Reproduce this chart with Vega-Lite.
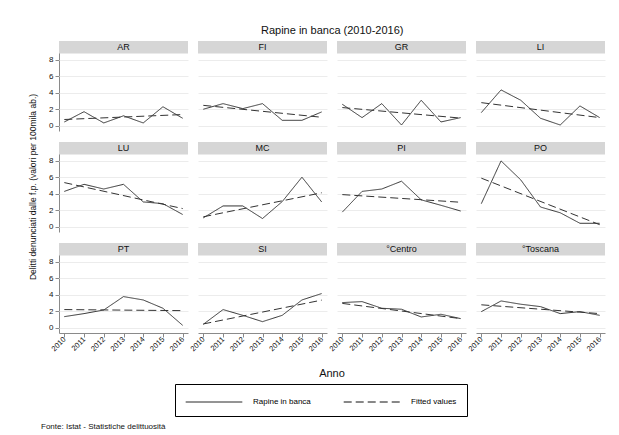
{
  "$schema": "https://vega.github.io/schema/vega-lite/v6.json",
  "padding": {"left": 28, "top": 25, "right": 5, "bottom": 3},
  "background": "white",
  "config": {
    "font": "Liberation Sans",
    "view": {"stroke": null},
    "axis": {"labelColor": "#111", "titleColor": "#111", "titleFontWeight": "normal", "domainColor": "#8a8a8a", "tickColor": "#8a8a8a", "labelOverlap": false},
    "title": {"fontWeight": "normal", "color": "#111"}
  },
  "title": {"text": "Fonte: Istat - Statistiche delittuosità", "orient": "bottom", "anchor": "start", "frame": "group", "fontSize": 8, "fontWeight": "normal", "dx": -18, "offset": 6},
  "vconcat": [
    {
      "title": {"text": "Rapine in banca (2010-2016)", "anchor": "start", "frame": "group", "dx": 202, "fontSize": 11, "fontWeight": "normal", "offset": 5},
      "data": {"values": [
        {"area": "AR", "anno": 2010, "serie": "Rapine in banca", "valore": 0.45},
        {"area": "AR", "anno": 2011, "serie": "Rapine in banca", "valore": 1.7},
        {"area": "AR", "anno": 2012, "serie": "Rapine in banca", "valore": 0.33},
        {"area": "AR", "anno": 2013, "serie": "Rapine in banca", "valore": 1.2},
        {"area": "AR", "anno": 2014, "serie": "Rapine in banca", "valore": 0.33},
        {"area": "AR", "anno": 2015, "serie": "Rapine in banca", "valore": 2.3},
        {"area": "AR", "anno": 2016, "serie": "Rapine in banca", "valore": 0.9},
        {"area": "FI", "anno": 2010, "serie": "Rapine in banca", "valore": 2.0},
        {"area": "FI", "anno": 2011, "serie": "Rapine in banca", "valore": 2.68},
        {"area": "FI", "anno": 2012, "serie": "Rapine in banca", "valore": 2.07},
        {"area": "FI", "anno": 2013, "serie": "Rapine in banca", "valore": 2.68},
        {"area": "FI", "anno": 2014, "serie": "Rapine in banca", "valore": 0.65},
        {"area": "FI", "anno": 2015, "serie": "Rapine in banca", "valore": 0.65},
        {"area": "FI", "anno": 2016, "serie": "Rapine in banca", "valore": 1.67},
        {"area": "GR", "anno": 2010, "serie": "Rapine in banca", "valore": 2.6},
        {"area": "GR", "anno": 2011, "serie": "Rapine in banca", "valore": 0.98},
        {"area": "GR", "anno": 2012, "serie": "Rapine in banca", "valore": 2.68},
        {"area": "GR", "anno": 2013, "serie": "Rapine in banca", "valore": 0.08},
        {"area": "GR", "anno": 2014, "serie": "Rapine in banca", "valore": 3.09},
        {"area": "GR", "anno": 2015, "serie": "Rapine in banca", "valore": 0.45},
        {"area": "GR", "anno": 2016, "serie": "Rapine in banca", "valore": 0.98},
        {"area": "LI", "anno": 2010, "serie": "Rapine in banca", "valore": 1.59},
        {"area": "LI", "anno": 2011, "serie": "Rapine in banca", "valore": 4.35},
        {"area": "LI", "anno": 2012, "serie": "Rapine in banca", "valore": 3.09},
        {"area": "LI", "anno": 2013, "serie": "Rapine in banca", "valore": 0.9},
        {"area": "LI", "anno": 2014, "serie": "Rapine in banca", "valore": 0.08},
        {"area": "LI", "anno": 2015, "serie": "Rapine in banca", "valore": 2.4},
        {"area": "LI", "anno": 2016, "serie": "Rapine in banca", "valore": 0.98},
        {"area": "LU", "anno": 2010, "serie": "Rapine in banca", "valore": 4.29},
        {"area": "LU", "anno": 2011, "serie": "Rapine in banca", "valore": 5.15},
        {"area": "LU", "anno": 2012, "serie": "Rapine in banca", "valore": 4.58},
        {"area": "LU", "anno": 2013, "serie": "Rapine in banca", "valore": 5.15},
        {"area": "LU", "anno": 2014, "serie": "Rapine in banca", "valore": 3.01},
        {"area": "LU", "anno": 2015, "serie": "Rapine in banca", "valore": 2.8},
        {"area": "LU", "anno": 2016, "serie": "Rapine in banca", "valore": 1.48},
        {"area": "MC", "anno": 2010, "serie": "Rapine in banca", "valore": 1.07},
        {"area": "MC", "anno": 2011, "serie": "Rapine in banca", "valore": 2.52},
        {"area": "MC", "anno": 2012, "serie": "Rapine in banca", "valore": 2.52},
        {"area": "MC", "anno": 2013, "serie": "Rapine in banca", "valore": 0.99},
        {"area": "MC", "anno": 2014, "serie": "Rapine in banca", "valore": 3.05},
        {"area": "MC", "anno": 2015, "serie": "Rapine in banca", "valore": 6.02},
        {"area": "MC", "anno": 2016, "serie": "Rapine in banca", "valore": 3.01},
        {"area": "PI", "anno": 2010, "serie": "Rapine in banca", "valore": 1.77},
        {"area": "PI", "anno": 2011, "serie": "Rapine in banca", "valore": 4.29},
        {"area": "PI", "anno": 2012, "serie": "Rapine in banca", "valore": 4.58},
        {"area": "PI", "anno": 2013, "serie": "Rapine in banca", "valore": 5.53},
        {"area": "PI", "anno": 2014, "serie": "Rapine in banca", "valore": 3.26},
        {"area": "PI", "anno": 2015, "serie": "Rapine in banca", "valore": 2.6},
        {"area": "PI", "anno": 2016, "serie": "Rapine in banca", "valore": 1.9},
        {"area": "PO", "anno": 2010, "serie": "Rapine in banca", "valore": 2.8},
        {"area": "PO", "anno": 2011, "serie": "Rapine in banca", "valore": 8.0},
        {"area": "PO", "anno": 2012, "serie": "Rapine in banca", "valore": 5.69},
        {"area": "PO", "anno": 2013, "serie": "Rapine in banca", "valore": 2.39},
        {"area": "PO", "anno": 2014, "serie": "Rapine in banca", "valore": 1.69},
        {"area": "PO", "anno": 2015, "serie": "Rapine in banca", "valore": 0.41},
        {"area": "PO", "anno": 2016, "serie": "Rapine in banca", "valore": 0.41},
        {"area": "PT", "anno": 2010, "serie": "Rapine in banca", "valore": 1.34},
        {"area": "PT", "anno": 2011, "serie": "Rapine in banca", "valore": 1.71},
        {"area": "PT", "anno": 2012, "serie": "Rapine in banca", "valore": 2.15},
        {"area": "PT", "anno": 2013, "serie": "Rapine in banca", "valore": 3.78},
        {"area": "PT", "anno": 2014, "serie": "Rapine in banca", "valore": 3.37},
        {"area": "PT", "anno": 2015, "serie": "Rapine in banca", "valore": 2.36},
        {"area": "PT", "anno": 2016, "serie": "Rapine in banca", "valore": 0.28},
        {"area": "SI", "anno": 2010, "serie": "Rapine in banca", "valore": 0.41},
        {"area": "SI", "anno": 2011, "serie": "Rapine in banca", "valore": 2.2},
        {"area": "SI", "anno": 2012, "serie": "Rapine in banca", "valore": 1.5},
        {"area": "SI", "anno": 2013, "serie": "Rapine in banca", "valore": 0.73},
        {"area": "SI", "anno": 2014, "serie": "Rapine in banca", "valore": 1.5},
        {"area": "SI", "anno": 2015, "serie": "Rapine in banca", "valore": 3.37},
        {"area": "SI", "anno": 2016, "serie": "Rapine in banca", "valore": 4.15},
        {"area": "°Centro", "anno": 2010, "serie": "Rapine in banca", "valore": 3.05},
        {"area": "°Centro", "anno": 2011, "serie": "Rapine in banca", "valore": 3.17},
        {"area": "°Centro", "anno": 2012, "serie": "Rapine in banca", "valore": 2.36},
        {"area": "°Centro", "anno": 2013, "serie": "Rapine in banca", "valore": 2.24},
        {"area": "°Centro", "anno": 2014, "serie": "Rapine in banca", "valore": 1.3},
        {"area": "°Centro", "anno": 2015, "serie": "Rapine in banca", "valore": 1.63},
        {"area": "°Centro", "anno": 2016, "serie": "Rapine in banca", "valore": 1.1},
        {"area": "°Toscana", "anno": 2010, "serie": "Rapine in banca", "valore": 1.95},
        {"area": "°Toscana", "anno": 2011, "serie": "Rapine in banca", "valore": 3.25},
        {"area": "°Toscana", "anno": 2012, "serie": "Rapine in banca", "valore": 2.85},
        {"area": "°Toscana", "anno": 2013, "serie": "Rapine in banca", "valore": 2.56},
        {"area": "°Toscana", "anno": 2014, "serie": "Rapine in banca", "valore": 1.71},
        {"area": "°Toscana", "anno": 2015, "serie": "Rapine in banca", "valore": 1.95},
        {"area": "°Toscana", "anno": 2016, "serie": "Rapine in banca", "valore": 1.5},
        {"area": "AR", "anno": 2010, "serie": "Fitted values", "valore": 0.75},
        {"area": "AR", "anno": 2016, "serie": "Fitted values", "valore": 1.35},
        {"area": "FI", "anno": 2010, "serie": "Fitted values", "valore": 2.47},
        {"area": "FI", "anno": 2016, "serie": "Fitted values", "valore": 1.02},
        {"area": "GR", "anno": 2010, "serie": "Fitted values", "valore": 2.2},
        {"area": "GR", "anno": 2016, "serie": "Fitted values", "valore": 0.92},
        {"area": "LI", "anno": 2010, "serie": "Fitted values", "valore": 2.8},
        {"area": "LI", "anno": 2016, "serie": "Fitted values", "valore": 0.98},
        {"area": "LU", "anno": 2010, "serie": "Fitted values", "valore": 5.36},
        {"area": "LU", "anno": 2016, "serie": "Fitted values", "valore": 2.2},
        {"area": "MC", "anno": 2010, "serie": "Fitted values", "valore": 1.2},
        {"area": "MC", "anno": 2016, "serie": "Fitted values", "valore": 4.12},
        {"area": "PI", "anno": 2010, "serie": "Fitted values", "valore": 3.9},
        {"area": "PI", "anno": 2016, "serie": "Fitted values", "valore": 2.97},
        {"area": "PO", "anno": 2010, "serie": "Fitted values", "valore": 5.9},
        {"area": "PO", "anno": 2016, "serie": "Fitted values", "valore": 0.24},
        {"area": "PT", "anno": 2010, "serie": "Fitted values", "valore": 2.2},
        {"area": "PT", "anno": 2016, "serie": "Fitted values", "valore": 2.07},
        {"area": "SI", "anno": 2010, "serie": "Fitted values", "valore": 0.45},
        {"area": "SI", "anno": 2016, "serie": "Fitted values", "valore": 3.35},
        {"area": "°Centro", "anno": 2010, "serie": "Fitted values", "valore": 2.95},
        {"area": "°Centro", "anno": 2016, "serie": "Fitted values", "valore": 1.1},
        {"area": "°Toscana", "anno": 2010, "serie": "Fitted values", "valore": 2.78},
        {"area": "°Toscana", "anno": 2016, "serie": "Fitted values", "valore": 1.71}
      ]},
      "transform": [
        {"calculate": "indexof(['AR','FI','GR','LI','LU','MC','PI','PO','PT','SI','°Centro','°Toscana'], datum.area)", "as": "idx"},
        {"calculate": "floor(datum.idx / 4)", "as": "riga"},
        {"calculate": "datum.idx % 4", "as": "colonna"}
      ],
      "facet": {
        "row": {"field": "riga", "type": "ordinal", "header": {"title": "Delitti denunciati dalle f.p. (valori per 100mila ab.)", "titleOrient": "left", "labels": false, "titleFontSize": 8.5, "titleFontWeight": "normal", "titleColor": "#111", "titlePadding": 1}},
        "column": {"field": "colonna", "type": "ordinal", "header": {"title": "Anno", "titleOrient": "bottom", "labels": false, "titleFontSize": 11, "titleFontWeight": "normal", "titleColor": "#111", "titlePadding": 5}}
      },
      "spacing": {"row": 11, "column": 10},
      "spec": {
        "width": 129,
        "height": 90,
        "layer": [
          {
            "transform": [{"filter": "datum.anno == 2010 && datum.serie == 'Rapine in banca'"}],
            "mark": {"type": "rect", "color": "#d6d6d6"},
            "encoding": {
              "x": {"datum": 2009.73, "type": "quantitative"},
              "x2": {"datum": 2016.27},
              "y": {"datum": 8.78, "type": "quantitative"},
              "y2": {"datum": 10.3}
            }
          },
          {
            "transform": [{"filter": "datum.anno == 2010 && datum.serie == 'Rapine in banca'"}],
            "mark": {"type": "text", "fontSize": 9, "color": "#111", "baseline": "middle"},
            "encoding": {
              "x": {"datum": 2013, "type": "quantitative"},
              "y": {"datum": 9.52, "type": "quantitative"},
              "text": {"field": "area", "type": "nominal"}
            }
          },
          {
            "mark": {"type": "line", "strokeWidth": 1, "color": "#333"},
            "encoding": {
              "x": {"field": "anno", "type": "quantitative", "title": null,
                "scale": {"domain": [2009.73, 2016.27], "nice": false, "zero": false},
                "axis": {"values": [2010, 2011, 2012, 2013, 2014, 2015, 2016], "tickCount": 20, "format": "d", "labelAngle": -45, "labelAlign": "right", "labelBaseline": "middle", "labelFontSize": 7.5, "tickSize": 4, "labelPadding": 1, "grid": false, "labelOverlap": false, "labelFlush": false}},
              "y": {"field": "valore", "type": "quantitative", "title": null,
                "scale": {"domain": [-0.65, 10.3], "nice": false, "zero": false},
                "axis": {"values": [0, 2, 4, 6, 8], "tickCount": 20, "format": "d", "labelFontSize": 8, "tickSize": 4, "labelPadding": 2, "grid": true, "gridColor": "#ececec", "labelOverlap": false, "labelFlush": false}},
              "strokeDash": {"field": "serie", "type": "nominal",
                "scale": {"domain": ["Rapine in banca", "Fitted values"], "range": [[1, 0], [8, 4]]},
                "legend": {"orient": "none", "legendX": 116, "legendY": 343, "direction": "horizontal", "title": null, "strokeColor": "#000", "padding": 10, "symbolType": "M-4,0H4", "symbolSize": 200, "symbolOffset": 21, "symbolStrokeWidth": 1, "symbolStrokeColor": "#111", "labelFontSize": 8, "labelOffset": 31, "columnPadding": 30}}
            }
          }
        ]
      }
    }
  ]
}
